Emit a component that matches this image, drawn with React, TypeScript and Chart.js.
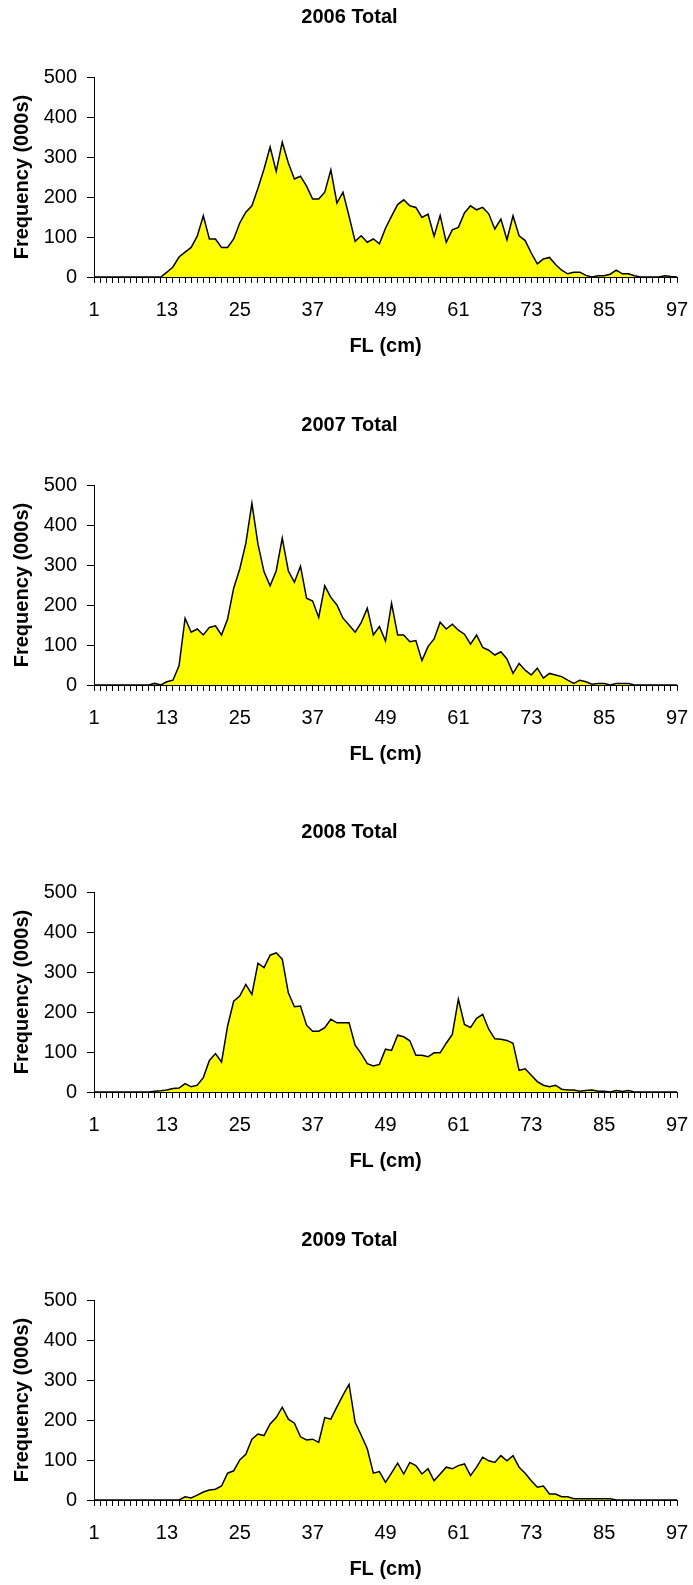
import React, { useEffect, useRef } from 'react';
import { Chart, registerables } from 'chart.js';

Chart.register(...registerables);

const FL_CM = [
  1, 2, 3, 4, 5, 6, 7, 8, 9, 10, 11, 12, 13, 14, 15, 16, 17, 18, 19, 20,
  21, 22, 23, 24, 25, 26, 27, 28, 29, 30, 31, 32, 33, 34, 35, 36, 37, 38, 39, 40,
  41, 42, 43, 44, 45, 46, 47, 48, 49, 50, 51, 52, 53, 54, 55, 56, 57, 58, 59, 60,
  61, 62, 63, 64, 65, 66, 67, 68, 69, 70, 71, 72, 73, 74, 75, 76, 77, 78, 79, 80,
  81, 82, 83, 84, 85, 86, 87, 88, 89, 90, 91, 92, 93, 94, 95, 96, 97,
];

const TICK_LABELS = ['1', '13', '25', '37', '49', '61', '73', '85', '97'];

const Y_TICKS = [0, 100, 200, 300, 400, 500];

const TITLES = ['2006 Total', '2007 Total', '2008 Total', '2009 Total'];

const FREQ_2006 = [
  0, 0, 0, 0, 0, 0, 0, 0, 0, 0, 0, 0,
  12, 25, 50, 62, 74, 102, 153, 95, 95, 74, 74, 95, 135, 162, 178, 222, 270, 325,
  264, 337, 285, 245, 252, 227, 195, 195, 212, 268, 185, 212, 152, 89, 103, 87, 95, 83, 122, 152,
  181, 193, 178, 174, 149, 157, 102, 154, 87, 118, 124, 160, 178, 168, 174, 158, 120, 145, 93, 153,
  103, 91, 60, 33, 45, 49, 31, 17, 8, 12, 12, 4, 0, 3, 3, 7, 17, 8, 8, 3,
  0, 0, 0, 0, 3, 1, 0,
];

const FREQ_2007 = [
  0, 0, 0, 0, 0, 0, 0, 0, 0, 0, 4, 0,
  8, 12, 48, 167, 132, 140, 125, 144, 148, 125, 165, 242, 290, 354, 454, 352, 283, 248,
  285, 367, 285, 257, 297, 217, 210, 169, 248, 219, 200, 167, 150, 132, 156, 192, 125, 146, 110, 204,
  125, 125, 108, 111, 61, 96, 115, 157, 140, 152, 137, 127, 102, 125, 94, 87, 75, 83, 65, 29,
  54, 37, 25, 42, 17, 29, 25, 21, 12, 4, 12, 8, 2, 4, 4, 0, 4, 4, 4, 0,
  0, 0, 0, 0, 0, 0, 0,
];

const FREQ_2008 = [
  0, 0, 0, 0, 0, 0, 0, 0, 0, 0, 2, 3,
  5, 9, 10, 21, 13, 17, 36, 79, 96, 75, 165, 227, 240, 269, 244, 322, 311, 342,
  348, 332, 248, 213, 215, 167, 152, 152, 161, 182, 173, 173, 173, 117, 96, 71, 65, 69, 107, 104,
  142, 138, 128, 92, 92, 88, 98, 98, 122, 144, 232, 169, 161, 184, 194, 157, 133, 132, 129, 122,
  54, 58, 42, 26, 17, 13, 17, 7, 5, 5, 2, 4, 5, 2, 2, 0, 4, 1, 4, 0,
  0, 0, 0, 0, 0, 0, 0,
];

const FREQ_2009 = [
  0, 0, 0, 0, 0, 0, 0, 0, 0, 0, 0, 0,
  0, 0, 0, 8, 5, 12, 20, 25, 27, 35, 67, 73, 100, 114, 152, 165, 161, 190,
  206, 232, 202, 192, 158, 150, 152, 144, 206, 202, 233, 262, 289, 194, 162, 128, 67, 71, 44, 68,
  92, 65, 94, 86, 65, 78, 48, 65, 82, 78, 86, 90, 61, 82, 107, 98, 94, 111, 98, 111,
  82, 67, 48, 32, 35, 15, 15, 8, 8, 3, 3, 3, 3, 3, 3, 3, 0, 0, 0, 0,
  0, 0, 0, 0, 0, 0, 0,
];

const SERIES = [FREQ_2006, FREQ_2007, FREQ_2008, FREQ_2009];
const PANEL_TOPS = [0, 408, 815, 1223];

const FONT = "'Liberation Sans', Arial, Helvetica, sans-serif";
const CANVAS_W = 693;
const CANVAS_H = 362;
const AREA_LEFT = 94;
const AREA_RIGHT = 677;
const AREA_TOP = 77;
const AREA_BOTTOM = 277;

function Panel({ title, values, top }: { title: string; values: number[]; top: number }) {
  const ref = useRef<HTMLCanvasElement>(null);

  useEffect(() => {
    const canvas = ref.current;
    if (!canvas) return;
    const titlePlugin = {
      id: 'panelTitle',
      afterDraw(c: any) {
        const ctx = c.ctx;
        ctx.save();
        ctx.font = `bold 20px ${FONT}`;
        ctx.fillStyle = '#000';
        ctx.textAlign = 'center';
        ctx.textBaseline = 'middle';
        ctx.fillText(title, 349.5, 17);
        ctx.restore();
      },
    };
    const chart = new Chart(canvas, {
      type: 'line',
      data: {
        labels: FL_CM.map(String),
        datasets: [
          {
            data: values,
            fill: 'origin',
            backgroundColor: '#FFFF00',
            borderColor: '#000000',
            borderWidth: 1.5,
            pointRadius: 0,
            pointHoverRadius: 0,
            tension: 0,
            borderJoinStyle: 'miter',
          },
        ],
      },
      options: {
        responsive: false,
        animation: false,
        devicePixelRatio: 1,
        events: [],
        layout: { padding: { top: AREA_TOP, right: CANVAS_W - AREA_RIGHT, bottom: 0, left: 0 } },
        plugins: {
          legend: { display: false },
          tooltip: { enabled: false },
          title: { display: false },
        },
        scales: {
          x: {
            type: 'category',
            offset: false,
            grid: {
              display: true,
              drawOnChartArea: false,
              drawTicks: true,
              tickLength: 6,
              color: '#000',
              lineWidth: 1,
            },
            border: { display: true, color: '#000', width: 1 },
            ticks: {
              autoSkip: false,
              maxRotation: 0,
              minRotation: 0,
              padding: 15,
              color: '#000',
              font: { family: FONT, size: 20 },
              callback: (_v: any, i: number) => {
                const l = String(FL_CM[i]);
                return TICK_LABELS.includes(l) ? l : '';
              },
            },
            title: {
              display: true,
              text: 'FL (cm)',
              color: '#000',
              font: { family: FONT, size: 20, weight: 'bold' },
              padding: { top: 0, bottom: 4 },
            },
            afterFit: (s: any) => {
              s.height = CANVAS_H - AREA_BOTTOM;
              s.paddingLeft = 0;
              s.paddingRight = 0;
            },
          },
          y: {
            min: Y_TICKS[0],
            max: Y_TICKS[Y_TICKS.length - 1],
            grid: {
              display: true,
              drawOnChartArea: false,
              drawTicks: true,
              tickLength: 7,
              color: '#000',
              lineWidth: 1,
            },
            border: { display: true, color: '#000', width: 1 },
            ticks: {
              stepSize: 100,
              padding: 10,
              color: '#000',
              font: { family: FONT, size: 20 },
            },
            title: {
              display: true,
              text: 'Frequency (000s)',
              color: '#000',
              font: { family: FONT, size: 20, weight: 'bold' },
              padding: { top: 10.5, bottom: 0 },
            },
            afterFit: (s: any) => {
              s.width = AREA_LEFT;
              s.paddingTop = 0;
              s.paddingBottom = 0;
            },
          },
        },
      } as any,
      plugins: [titlePlugin],
    });
    // correct any extra space Chart.js reserved, so the plot area lands where the reference has it
    const ca = chart.chartArea;
    const pad = (chart.options as any).layout.padding;
    const dr = ca.right - AREA_RIGHT;
    const dt = ca.top - AREA_TOP;
    if (Math.abs(dr) > 0.5 || Math.abs(dt) > 0.5) {
      pad.right = pad.right + dr;
      pad.top = pad.top - dt;
      chart.update();
    }
    return () => chart.destroy();
  }, [title, values]);

  return (
    <canvas
      ref={ref}
      width={CANVAS_W}
      height={CANVAS_H}
      style={{ position: 'absolute', left: 0, top, width: CANVAS_W, height: CANVAS_H }}
    />
  );
}

export default function App() {
  return (
    <div
      style={{
        position: 'absolute',
        left: 0,
        top: 0,
        width: 693,
        height: 1585,
        background: '#fff',
        overflow: 'hidden',
      }}
    >
      {TITLES.map((t, i) => (
        <Panel key={t} title={t} values={SERIES[i]} top={PANEL_TOPS[i]} />
      ))}
    </div>
  );
}
